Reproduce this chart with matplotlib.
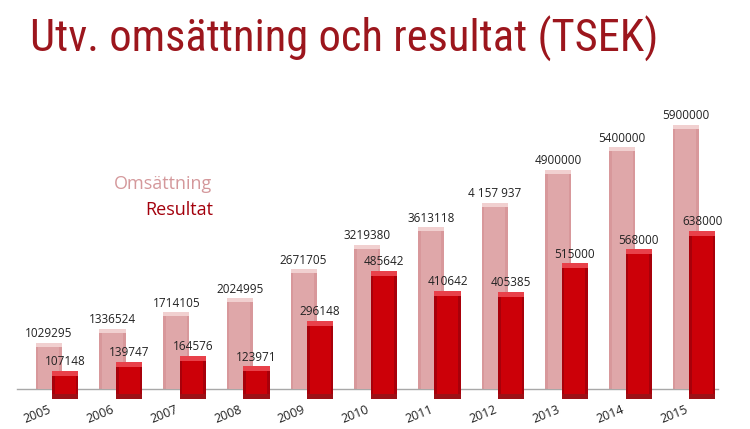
import matplotlib
matplotlib.use('Agg')
import matplotlib.pyplot as plt
from matplotlib import font_manager
from matplotlib.font_manager import FontProperties

years = ['2005', '2006', '2007', '2008', '2009', '2010', '2011', '2012', '2013', '2014', '2015']
omsattning = [1029295, 1336524, 1714105, 2024995, 2671705, 3219380, 3613118, 4157937, 4900000, 5400000, 5900000]
resultat = [107148, 139747, 164576, 123971, 296148, 485642, 410642, 405385, 515000, 568000, 638000]
oms_labels = ['1029295', '1336524', '1714105', '2024995', '2671705', '3219380', '3613118', '4 157 937', '4900000', '5400000', '5900000']
res_labels = ['107148', '139747', '164576', '123971', '296148', '485642', '410642', '405385', '515000', '568000', '638000']
title = 'Utv. omsättning och resultat (TSEK)'
legend_oms = 'Omsättning'
legend_res = 'Resultat'

names = {f.name for f in font_manager.fontManager.ttflist}
base_font = 'Open Sans' if 'Open Sans' in names else 'DejaVu Sans'
plt.rcParams['font.family'] = [base_font, 'DejaVu Sans']

# look for a condensed sans face for the title
pref = ['Open Sans', 'Noto Sans', 'Roboto', 'Liberation Sans Narrow', 'Liberation Sans', 'DejaVu Sans']
cands = []
for f in font_manager.fontManager.ttflist:
    cond = ('Narrow' in f.name or 'Condensed' in f.name or 'Condensed' in f.fname or
            str(f.stretch) in ('condensed', 'semi-condensed', 'extra-condensed', '75', '87.5'))
    w = str(f.weight)
    if cond and f.style == 'normal' and w in ('400', 'normal', 'regular', 'Regular', 'book'):
        if 'Bold' in f.fname or 'Italic' in f.fname or 'Oblique' in f.fname:
            continue
        cands.append(f)
def rank(f):
    for i, p in enumerate(pref):
        if f.name.startswith(p):
            return i
    return 99
cands.sort(key=rank)
if cands:
    title_fp = FontProperties(fname=cands[0].fname)
else:
    title_fp = FontProperties(family=base_font)

W, H = 750, 429
fig = plt.figure(figsize=(W / 100, H / 100), dpi=100)
fig.patch.set_facecolor('white')

ax_left, ax_right = 17, 717.6
ax_top, ax_bot = 110, 399
rect = [ax_left / W, (H - ax_bot) / H, (ax_right - ax_left) / W, (ax_bot - ax_top) / H]
ax1 = fig.add_axes(rect)
ax2 = ax1.twinx()

ax1.set_ylim(-223000, 6235000)
ax2.set_ylim(0, 1097500)
for a in (ax1, ax2):
    a.set_xlim(-0.5, len(years) - 0.5)
    a.patch.set_visible(False)
    for s in a.spines.values():
        s.set_visible(False)
    a.set_yticks([])

axh_px = ax_bot - ax_top
u1 = (6235000 + 223000) / axh_px   # data units per px on ax1
u2 = 1097500 / axh_px              # data units per px on ax2

x = list(range(len(years)))
bw = 0.41
off = 0.26
xr = [i + off for i in x]

# Pink bars (Omsättning)
ax1.bar(x, omsattning, width=bw, color='#D8989B', zorder=2)
ax1.bar(x, omsattning, width=bw * 0.8, color='#DFA7A9', zorder=3)
ax1.bar(x, [4 * u1] * len(x), bottom=[v - 4 * u1 for v in omsattning], width=bw, color='#F1D0D0', zorder=4)

# baseline and ticks
ax1.spines['bottom'].set_visible(True)
ax1.spines['bottom'].set_position(('data', 0))
ax1.spines['bottom'].set_color('#A8A8A8')
ax1.spines['bottom'].set_linewidth(1.0)
ax1.set_xticks([i - 0.5 for i in range(len(years) + 1)])
ax1.set_xticklabels([])
ax1.tick_params(axis='x', which='major', direction='out', length=4, color='#A8A8A8', width=1)
ax1.set_xticks([i + 0.06 for i in x], minor=True)
ax1.set_xticklabels(years, minor=True, rotation=22, ha='right', fontsize=9, color='#222222')
ax1.tick_params(axis='x', which='minor', length=0, pad=10)
ax2.set_xticks([])

for xi, v, lab in zip(x, omsattning, oms_labels):
    ax1.annotate(lab, (xi, v), xytext=(0, 2), textcoords='offset points',
                 ha='center', va='bottom', fontsize=8.5, color='#222222', zorder=6)

# Red bars (Resultat)
ax2.bar(xr, resultat, width=bw, color='#A8000A', zorder=2)
ax2.bar(xr, [v - 10 * u2 for v in resultat], bottom=[5 * u2] * len(xr), width=bw * 0.8, color='#CC0008', zorder=3)
ax2.bar(xr, [5 * u2] * len(xr), bottom=[v - 5 * u2 for v in resultat], width=bw, color='#E8414A', zorder=4)
ax2.bar(xr, [5 * u2] * len(xr), width=bw, color='#9C1016', zorder=4)

for xi, v, lab in zip(xr, resultat, res_labels):
    ax2.annotate(lab, (xi, v), xytext=(0, 2), textcoords='offset points',
                 ha='center', va='bottom', fontsize=8.5, color='#222222', zorder=6)

# Legend texts
fig.text(212 / W, 1 - 184 / H, legend_oms, ha='right', va='center', fontsize=13, color='#D4989B')
fig.text(213 / W, 1 - 210 / H, legend_res, ha='right', va='center', fontsize=13, color='#A3000C')

# Title, fitted to width
t = fig.text(30 / W, 1 - 52 / H, title, ha='left', va='baseline', fontproperties=title_fp,
             color='#9C161D')
t.set_fontsize(31)
fig.canvas.draw()
r = fig.canvas.get_renderer()
wpx = t.get_window_extent(r).width
t.set_fontsize(min(31 * 630 / wpx, 32))

fig.savefig('out.png', dpi=100, facecolor='white')
